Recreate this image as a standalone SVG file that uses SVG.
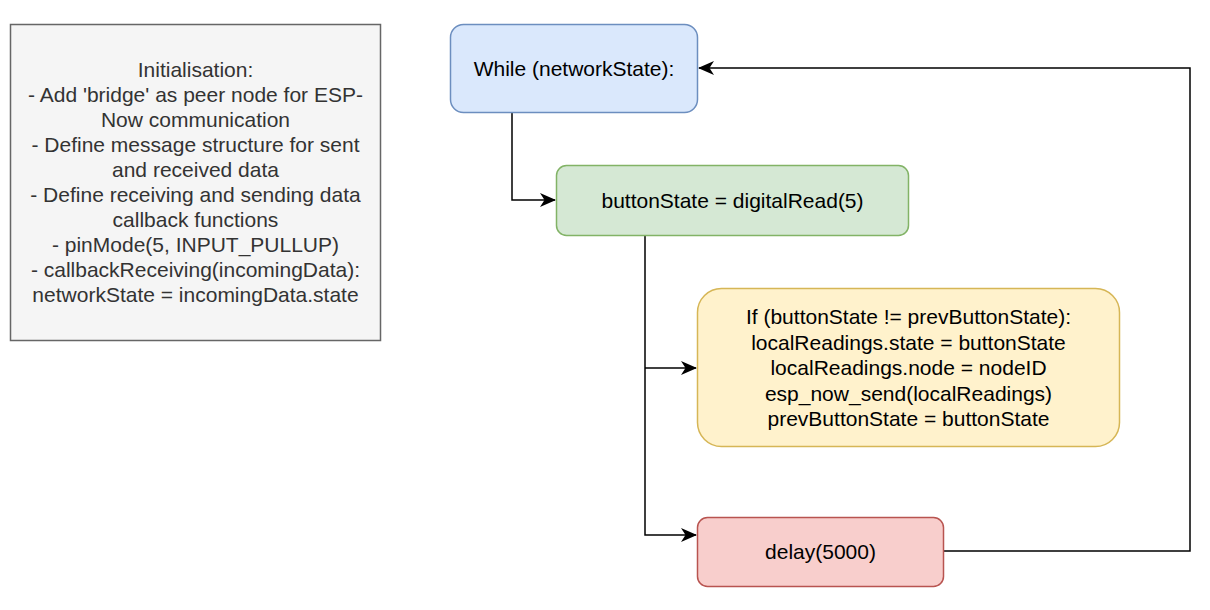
<svg xmlns="http://www.w3.org/2000/svg" width="1210" height="610" viewBox="0 0 1210 610">
<style>
  text { font-family: "Liberation Sans", Arial, sans-serif; font-size: 21px; text-anchor: middle; fill: #000; }
  .init text { fill: #333333; }
  .edge { fill: none; stroke: #000; stroke-width: 1.5; }
</style>
<defs>
  <marker id="arr" viewBox="0 0 16 14" refX="15" refY="7" markerWidth="16" markerHeight="14" markerUnits="userSpaceOnUse" orient="auto">
    <path d="M0,0 L16,7 L0,14 L4.5,7 Z" fill="#000"/>
  </marker>
</defs>
<rect width="1210" height="610" fill="#fff"/>
<g id="init" class="init">
  <rect x="10.5" y="24.5" width="370" height="316" fill="#f5f5f5" stroke="#666666" stroke-width="1.5"/>
  <text x="195.5" y="77">Initialisation:</text>
  <text x="195.5" y="102">- Add 'bridge' as peer node for ESP-</text>
  <text x="195.5" y="127">Now communication</text>
  <text x="195.5" y="152">- Define message structure for sent</text>
  <text x="195.5" y="177">and received data</text>
  <text x="195.5" y="202">- Define receiving and sending data</text>
  <text x="195.5" y="227">callback functions</text>
  <text x="195.5" y="252">- pinMode(5, INPUT_PULLUP)</text>
  <text x="195.5" y="277">- callbackReceiving(incomingData):</text>
  <text x="195.5" y="302">networkState = incomingData.state</text>
</g>
<g id="edges">
  <path class="edge" d="M512,113 V200 H555" marker-end="url(#arr)"/>
  <path class="edge" d="M645,236 V535 H696" marker-end="url(#arr)"/>
  <path class="edge" d="M645,368 H696" marker-end="url(#arr)"/>
  <path class="edge" d="M944,551 H1190 V68 H699" marker-end="url(#arr)"/>
</g>
<g id="while">
  <rect x="450.5" y="24.5" width="247" height="88" rx="13" fill="#dae8fc" stroke="#6c8ebf" stroke-width="1.5"/>
  <text x="574" y="76">While (networkState):</text>
</g>
<g id="read">
  <rect x="556.5" y="165.5" width="352" height="70" rx="10" fill="#d5e8d4" stroke="#82b366" stroke-width="1.5"/>
  <text x="732.5" y="208">buttonState = digitalRead(5)</text>
</g>
<g id="ifnode">
  <rect x="697.5" y="288.5" width="422" height="158" rx="24" fill="#fff2cc" stroke="#d6b656" stroke-width="1.5"/>
  <text x="908.5" y="324">If (buttonState != prevButtonState):</text>
  <text x="908.5" y="349.5">localReadings.state = buttonState</text>
  <text x="908.5" y="375">localReadings.node = nodeID</text>
  <text x="908.5" y="400.5">esp_now_send(localReadings)</text>
  <text x="908.5" y="426">prevButtonState = buttonState</text>
</g>
<g id="delay">
  <rect x="697.5" y="517.5" width="246" height="69" rx="10" fill="#f8cecc" stroke="#b85450" stroke-width="1.5"/>
  <text x="820.5" y="559">delay(5000)</text>
</g>
</svg>
